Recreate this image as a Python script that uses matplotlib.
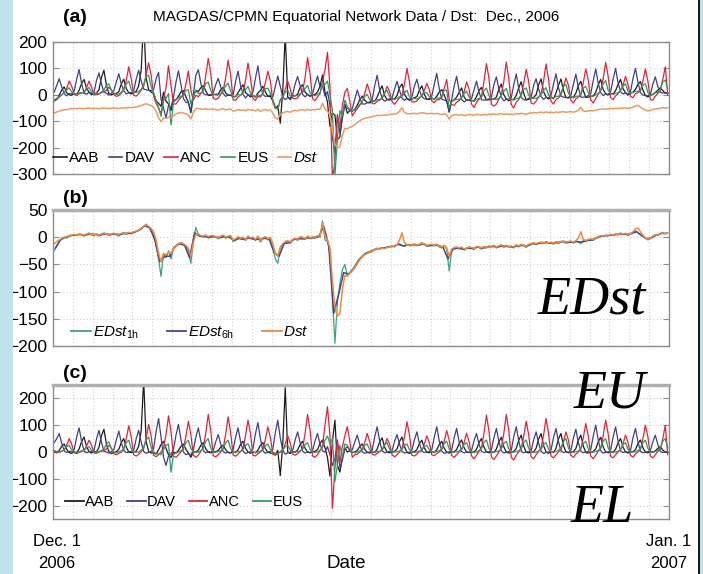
import numpy as np
import matplotlib
matplotlib.use("Agg")
import matplotlib.pyplot as plt
from matplotlib import font_manager
from matplotlib.lines import Line2D
from matplotlib.patches import Rectangle

# ---------------------------------------------------------------------------
# Data: December 2006, 3-hourly samples (8 per day, one row per day)
# EE index (H minus EDst) for the four MAGDAS equatorial stations, nT
# ---------------------------------------------------------------------------
ee_aab = [
    [2, -3, 6, 21, 30, 10, -2, -5],
    [0, -2, 11, 39, 56, 20, 2, -4],
    [3, 0, 17, 60, 85, 30, 1, -6],
    [-2, 1, 10, 35, 50, 18, 0, -3],
    [0, 3, 22, 78, 270, 40, 2, -4],
    [-3, -8, 8, 28, 40, 14, -10, -20],
    [0, -4, 6, 21, 30, 10, -3, -20],
    [2, -1, 7, 25, 35, 12, 0, -3],
    [-1, 2, 5, 18, 25, 9, -2, -4],
    [1, -2, 8, 28, 40, 14, 0, -5],
    [0, -3, 7, 25, 35, 12, -1, -4],
    [-5, -10, 6, -88, 30, 240, 0, -6],
    [2, -1, 8, 28, 40, 14, 0, -3],
    [0, 3, 9, 32, 45, 16, -20, -90],
    [40, 119, -50, -75, -20, 15, 0, 5],
    [-2, 0, 6, 21, 30, 10, -1, -4],
    [1, -2, 11, 37, 53, 18, 0, -3],
    [0, 2, 11, 39, 56, 20, -2, -5],
    [-1, 1, 9, 31, 44, 15, 0, -3],
    [2, -2, 8, 28, 40, 14, -1, -4],
    [0, 1, 9, 31, 45, 16, 0, -2],
    [-2, 0, 10, 35, 50, 18, 1, -3],
    [1, -1, 11, 38, 55, 19, 0, -4],
    [0, 2, 13, 44, 63, 22, -1, -3],
    [-1, 0, 14, 48, 69, 24, 0, -5],
    [2, -2, 14, 48, 69, 24, 1, -3],
    [0, 1, 13, 44, 63, 22, -2, -4],
    [-1, 2, 11, 38, 55, 19, 0, -3],
    [1, -1, 10, 35, 50, 18, 0, -4],
    [0, 1, 9, 31, 45, 16, -1, -3],
    [2, 0, 4, 14, 20, 7, 0, -2],
]

ee_dav = [
    [35, 50, 69, 33, 5, -2, 3, 0],
    [8, 55, 90, 40, 4, -3, 1, 2],
    [6, 48, 81, 37, 3, 0, -4, 1],
    [9, 45, 78, 35, 6, -2, 0, 3],
    [7, 50, 81, 38, 2, -5, -1, 2],
    [12, 75, 125, 55, -20, -50, -15, -8],
    [10, 62, 103, 48, 0, -10, -6, -12],
    [8, 55, 90, 42, 5, -3, 2, 0],
    [5, 38, 65, 30, 2, -4, 0, -3],
    [7, 55, 90, 40, 3, -6, -2, 1],
    [12, 68, 110, 50, 4, -5, 0, 2],
    [10, 72, 119, 52, 6, -8, -3, 0],
    [6, 45, 75, 35, 3, -4, 1, -2],
    [5, 42, 69, 30, 4, 0, 20, -10],
    [-50, -25, 45, -60, -30, 10, 20, 5],
    [8, 38, 63, 28, 0, -5, -2, 0],
    [6, 56, 94, 42, 5, -3, -1, 2],
    [4, 40, 65, 30, 2, -4, 0, -2],
    [7, 45, 75, 33, 3, -2, 1, 0],
    [9, 56, 94, 41, 4, -5, -2, 1],
    [6, 53, 88, 38, 2, -3, 0, -1],
    [5, 42, 69, 30, 3, -2, 1, 0],
    [8, 53, 88, 40, 5, -4, -1, 2],
    [7, 57, 94, 42, 3, -3, 0, 1],
    [5, 45, 75, 33, 2, -5, -2, 0],
    [8, 53, 88, 39, 4, -2, 1, -1],
    [6, 51, 85, 37, 3, -3, 0, 2],
    [9, 60, 100, 45, 5, -4, -1, 0],
    [7, 56, 94, 41, 4, -2, 1, -1],
    [6, 53, 88, 39, 3, -3, 0, 1],
    [5, 38, 63, 28, 2, -2, 1, 0],
]

ee_anc = [
    [5, -2, 0, 3, 8, 25, 50, 30],
    [-3, -6, -2, 2, 6, 22, 44, 26],
    [-4, -5, 0, 3, 4, 12, 25, 15],
    [-6, -10, -5, 0, 10, 49, 98, 55],
    [-10, -15, -8, 2, 12, 52, 103, 60],
    [-12, -18, -10, 0, 15, 65, 135, 75],
    [-15, -20, -10, 0, 14, 58, 115, 65],
    [-12, -20, -12, 3, 15, 70, 140, 80],
    [-14, -18, -10, 0, 13, 65, 131, 75],
    [-10, -16, -8, 2, 12, 60, 119, 68],
    [-12, -15, -6, 0, 10, 47, 94, 55],
    [-8, -12, -5, 0, 6, 30, 60, 35],
    [-8, -12, -6, 3, 15, 70, 140, 80],
    [-15, -20, -10, 5, 20, 100, 169, 60],
    [-210, -60, 40, -40, 20, 60, 94, 40],
    [-20, -10, -8, 0, 8, 35, 69, 40],
    [-8, -12, -5, 2, 6, 25, 50, 30],
    [-10, -18, -10, 0, 12, 57, 113, 65],
    [-12, -15, -8, 2, 6, 30, 60, 35],
    [-10, -14, -6, 0, 9, 40, 80, 45],
    [-12, -20, -10, 0, 8, 35, 70, 40],
    [-15, -25, -12, 2, 14, 69, 138, 80],
    [-18, -28, -15, 0, 15, 70, 140, 80],
    [-20, -30, -12, 0, 12, 58, 115, 65],
    [-18, -25, -10, 2, 13, 63, 125, 70],
    [-15, -22, -10, 0, 8, 38, 75, 45],
    [-12, -20, -8, 0, 11, 53, 106, 60],
    [-15, -25, -12, 2, 12, 60, 119, 68],
    [-16, -22, -10, 0, 7, 32, 63, 36],
    [-12, -20, -8, 0, 10, 50, 100, 57],
    [-15, -22, -10, 2, 10, 50, 100, -10],
]

ee_eus = [
    [5, 2, 0, 3, 8, 20, 25, 8],
    [0, -2, 1, 4, 6, 16, 20, 6],
    [-1, 0, 2, 5, 11, 30, 38, 12],
    [0, -3, 1, 4, 13, 35, 44, 13],
    [2, -1, 0, 6, 17, 45, 56, 17],
    [0, -5, -8, -10, 9, 24, 30, -75],
    [-10, -3, 0, 4, 13, 35, 44, 13],
    [1, -2, 0, 5, 15, 40, 50, 15],
    [0, -1, 2, 4, 13, 35, 44, 13],
    [-2, 0, 1, 3, 9, 25, 31, 9],
    [1, -2, 0, 4, 9, 24, 30, 9],
    [0, -6, -8, 2, 8, 20, 25, 8],
    [-1, 0, 2, 4, 10, 28, 35, 10],
    [0, -2, 1, 6, 17, 44, 60, 30],
    [50, -110, -50, 25, -20, 30, 25, 10],
    [0, -3, 0, 4, 9, 24, 30, 9],
    [1, -1, 2, 3, 10, 28, 35, 10],
    [-1, 0, 1, 4, 9, 24, 30, 9],
    [0, -2, 0, 3, 8, 20, 25, 8],
    [1, -1, 2, 5, 12, 32, 40, 12],
    [-1, 0, 1, 4, 10, 28, 35, 10],
    [0, -2, 0, 5, 13, 36, 45, 13],
    [1, -1, 2, 4, 12, 32, 40, 12],
    [0, 0, 1, 5, 13, 36, 45, 13],
    [-1, -2, 0, 3, 10, 28, 35, 10],
    [1, 0, 2, 6, 15, 40, 50, 15],
    [0, -1, 1, 4, 12, 32, 40, 12],
    [-1, 0, 2, 5, 15, 40, 50, 15],
    [0, -2, 0, 3, 10, 28, 35, 10],
    [1, 0, 1, 5, 13, 35, 44, 13],
    [0, -1, 2, 6, 15, 40, 50, 15],
]

# EDst from 1-hour data (3-hourly samples), nT
edst_1h = [
    [-25, -15, -8, -3, 0, -2, 2, 3],
    [5, 3, 6, 4, 2, 5, 8, 4],
    [3, 6, 2, 5, 8, 6, 3, 5],
    [7, 4, 2, 6, 9, 5, 8, 6],
    [8, 10, 12, 15, 20, 24, 18, 14],
    [8, -15, -40, -72, -30, -38, -25, -40],
    [-20, -15, -12, -10, -14, -18, -25, -48],
    [-8, 18, 5, 2, 0, 3, -2, 1],
    [2, 0, -3, 1, 3, -2, 0, 2],
    [-8, -5, 0, -4, -2, -6, 1, -3],
    [-2, -6, 0, -9, -3, -1, -5, -2],
    [-18, -40, -48, -20, -15, -10, -8, -12],
    [-5, -3, -6, 0, -2, -4, 1, -3],
    [0, -2, 2, 0, 30, -5, -8, -30],
    [-110, -195, -120, -85, -60, -50, -70, -65],
    [-60, -55, -45, -40, -35, -30, -28, -27],
    [-25, -22, -20, -22, -19, -21, -18, -17],
    [-16, -18, -14, -12, -15, -17, -13, -16],
    [-15, -12, -16, -14, -10, -13, -17, -15],
    [-14, -16, -13, -18, -20, -15, -22, -62],
    [-25, -20, -18, -22, -19, -24, -21, -18],
    [-20, -23, -17, -19, -22, -18, -20, -16],
    [-18, -15, -20, -17, -14, -19, -16, -18],
    [-17, -20, -15, -18, -13, -16, -19, -14],
    [-13, -10, -14, -11, -9, -12, -8, -11],
    [-10, -13, -8, -12, -9, -7, -11, -9],
    [-8, -11, -7, -9, -12, -6, -8, -5],
    [-4, -6, -2, 0, 3, 1, 4, 2],
    [5, 3, 6, 4, 8, 5, 7, 3],
    [6, 9, 12, 8, 5, 2, -2, -5],
    [-3, 2, 5, 3, 7, 9, 6, 8],
]

# EDst from 6-hour running data (6-hourly samples), nT
edst_6h = [
    [-20, -5, 0, 3], [4, 5, 4, 6], [5, 4, 6, 5], [6, 5, 7, 7],
    [10, 14, 21, 17], [-5, -45, -35, -35], [-18, -12, -15, -38],
    [8, 2, 1, 0], [1, -1, 1, 0], [-6, -2, -4, -1], [-4, -4, -2, -3],
    [-28, -35, -12, -10], [-4, -3, -3, -1], [-1, 1, 20, -15],
    [-140, -105, -65, -68], [-58, -43, -33, -28], [-24, -21, -20, -18],
    [-17, -13, -16, -14], [-14, -15, -12, -16], [-15, -15, -18, -40],
    [-22, -20, -22, -20], [-21, -18, -20, -18], [-17, -18, -16, -17],
    [-18, -16, -15, -16], [-12, -12, -10, -10], [-11, -10, -8, -10],
    [-9, -8, -9, -6], [-5, -1, 2, 3], [4, 5, 6, 5], [7, 10, 3, -3],
    [-1, 4, 7, 7],
]

# Kyoto Dst (3-hourly samples), nT
dst = [
    [-12, -8, -5, -2, 0, 1, 3, 4],
    [5, 4, 6, 5, 4, 6, 7, 5],
    [5, 6, 4, 6, 7, 6, 5, 6],
    [7, 6, 5, 7, 8, 7, 9, 8],
    [10, 11, 13, 16, 20, 23, 20, 16],
    [10, -5, -30, -45, -30, -32, -28, -30],
    [-22, -16, -12, -10, -12, -15, -20, -35],
    [-10, 5, 6, 3, 2, 4, 1, 3],
    [3, 1, -1, 2, 4, 0, 2, 3],
    [-5, -3, 1, -2, 0, -4, 2, -1],
    [0, -4, 2, -6, -1, 1, -3, 0],
    [-12, -30, -35, -18, -12, -8, -6, -9],
    [-4, -2, -4, 1, 0, -3, 2, -1],
    [1, 0, 3, 2, 25, 2, -5, -20],
    [-80, -130, -145, -140, -95, -70, -72, -66],
    [-62, -56, -48, -42, -36, -32, -30, -28],
    [-26, -23, -21, -22, -20, -21, -19, -18],
    [-17, -16, -14, -5, 8, -10, -14, -15],
    [-14, -13, -15, -13, -11, -12, -15, -14],
    [-13, -15, -13, -16, -18, -15, -19, -35],
    [-22, -19, -18, -20, -18, -22, -20, -18],
    [-19, -21, -17, -18, -20, -17, -19, -16],
    [-17, -15, -18, -16, -14, -17, -15, -17],
    [-16, -18, -14, -16, -13, -15, -17, -13],
    [-12, -10, -12, -10, -9, -11, -8, -10],
    [-9, -11, -8, -10, -8, -7, -9, -8],
    [-7, -9, -6, -2, 10, -4, -6, -4],
    [-3, -4, -1, 1, 3, 2, 4, 3],
    [5, 4, 6, 5, 7, 6, 7, 5],
    [7, 10, 15, 17, 10, 4, -1, -4],
    [-2, 2, 4, 4, 6, 8, 7, 8],
]

stations = ["AAB", "DAV", "ANC", "EUS"]
station_colors = ["#1e1e1e", "#3f3f8f", "#e5223c", "#2f9a5c"]
dst_color = "#ec9a62"
edst_colors = ["#3aa673", "#45458f", "#f08a3c"]
date_left = ["Dec. 1", "2006"]
date_right = ["Jan. 1", "2007"]
title = "MAGDAS/CPMN Equatorial Network Data / Dst:  Dec., 2006"
DST_SHIFT_A = -57  # Dst is drawn lowered in panel (a) to keep it below the station traces

# ---------------------------------------------------------------------------
installed = {f.name for f in font_manager.fontManager.ttflist}
SANS = "Liberation Sans"
NARROW = "Liberation Sans Narrow" if "Liberation Sans Narrow" in installed else SANS
SERIF = "Liberation Serif"

plt.rcParams["font.family"] = [SANS, "DejaVu Sans"]
plt.rcParams["mathtext.fontset"] = "custom"
plt.rcParams["mathtext.it"] = SANS + ":italic"
plt.rcParams["mathtext.rm"] = SANS

ee = [np.ravel(np.array(s, dtype=float)) for s in (ee_aab, ee_dav, ee_anc, ee_eus)]
e1 = np.ravel(np.array(edst_1h, dtype=float))
e6 = np.ravel(np.array(edst_6h, dtype=float))
ds = np.ravel(np.array(dst, dtype=float))

t3 = (np.arange(e1.size) + 0.5) * 3 / 24.0   # days since Dec 1, 00 UT
t6 = (np.arange(e6.size) + 0.5) * 6 / 24.0

# H deviation at each station = EE + EDst
h = [x + e1 for x in ee]

W, H = 703, 574
fig = plt.figure(figsize=(W / 100, H / 100), dpi=100)

# side strips of the page
fig.patches.append(Rectangle((0, 0), 13 / W, 1, transform=fig.transFigure,
                             facecolor="#c3e3ea", edgecolor="none", zorder=0))
fig.patches.append(Rectangle((700 / W, 0), 3 / W, 1, transform=fig.transFigure,
                             facecolor="#c3e3ea", edgecolor="none", zorder=0))
fig.add_artist(Line2D([699 / W, 699 / W], [0, 1], transform=fig.transFigure,
                      color="black", lw=1.3))

L, R = 53, 669


def add_panel(top, bottom):
    return fig.add_axes([L / W, 1 - bottom / H, (R - L) / W, (bottom - top) / H])


def style(ax, ylim, yticks, thick_top=False):
    ax.set_xlim(0, 31)
    ax.set_ylim(*ylim)
    ax.set_yticks(yticks)
    ax.set_xticks(np.arange(1, 31))
    ax.tick_params(axis="x", length=0, labelbottom=False)
    ax.tick_params(axis="y", direction="in", length=4, width=0.8, color="#8c8c8c",
                   left=True, right=True, labelsize=12.5, pad=4)
    ax.grid(True, color="#cfcfcf", ls=(0, (1, 2)), lw=0.8)
    ax.set_axisbelow(True)
    for s in ax.spines.values():
        s.set_color("#8c8c8c")
        s.set_linewidth(1.0)
    if thick_top:
        ax.spines["top"].set_color("#b0b0b0")
        ax.spines["top"].set_linewidth(2.5)


# (a) station H and Dst
ax_a = add_panel(42, 174)
for y, c in zip(h, station_colors):
    ax_a.plot(t3, y, color=c, lw=0.9)
ax_a.plot(t3, ds + DST_SHIFT_A, color=dst_color, lw=1.1)
style(ax_a, (-300, 200), np.arange(-300, 201, 100))
hand_a = [Line2D([], [], color=c, lw=1.2) for c in station_colors + [dst_color]]
leg_a = ax_a.legend(hand_a, stations + ["Dst"], loc="center left", bbox_to_anchor=(0.0, 0.12),
                    ncol=5, frameon=False, handlelength=0.9, handletextpad=0.15,
                    columnspacing=0.6, fontsize=11, borderaxespad=0, borderpad=0)
leg_a.get_texts()[-1].set_fontstyle("italic")

# (b) EDst and Dst
ax_b = add_panel(210, 346)
ax_b.plot(t3, e1, color=edst_colors[0], lw=0.9)
ax_b.plot(t6, e6, color=edst_colors[1], lw=1.1)
ax_b.plot(t3, ds, color=edst_colors[2], lw=1.1)
style(ax_b, (-200, 50), np.arange(-200, 51, 50), thick_top=True)
hand_b = [Line2D([], [], color=c, lw=1.3) for c in edst_colors]
ax_b.legend(hand_b, [r"$\mathit{EDst}_{\mathrm{1h}}$", r"$\mathit{EDst}_{\mathrm{6h}}$", r"$\mathit{Dst}$"],
            loc="center left", bbox_to_anchor=(0.03, 0.1), ncol=3, frameon=False,
            handlelength=1.3, handletextpad=0.1, columnspacing=1.8, fontsize=11,
            borderaxespad=0, borderpad=0)

# (c) EE index
ax_c = add_panel(385, 519)
for y, c in zip(ee, station_colors):
    ax_c.plot(t3, y, color=c, lw=0.9)
style(ax_c, (-250, 250), np.arange(-200, 201, 100), thick_top=True)
hand_c = [Line2D([], [], color=c, lw=1.3) for c in station_colors]
ax_c.legend(hand_c, stations, loc="center left", bbox_to_anchor=(0.02, 0.125), ncol=4,
            frameon=False, handlelength=1.25, handletextpad=0.1, columnspacing=0.9,
            fontsize=10.5, borderaxespad=0, borderpad=0)

for ax in (ax_a, ax_b, ax_c):
    for lab in ax.get_yticklabels():
        lab.set_fontfamily(SANS)

# texts
fig.text(356 / W, 1 - 17 / H, title, ha="center", va="center",
         fontsize=12 if NARROW != SANS else 11, family=NARROW)
for lab, y in (("(a)", 18), ("(b)", 199), ("(c)", 373)):
    fig.text(75 / W, 1 - y / H, lab, ha="center", va="center", fontsize=14, fontweight="bold")

for txt, x, yb in (("EDst", 592, 313), ("EU", 610, 407), ("EL", 602, 522)):
    fig.text(x / W, 1 - yb / H, txt, ha="center", va="baseline", fontsize=39,
             family=SERIF, style="italic")

fig.text(57 / W, 1 - 541 / H, date_left[0], ha="center", va="center", fontsize=12)
fig.text(57 / W, 1 - 563 / H, date_left[1], ha="center", va="center", fontsize=12)
fig.text(669 / W, 1 - 541 / H, date_right[0], ha="center", va="center", fontsize=12)
fig.text(669 / W, 1 - 563 / H, date_right[1], ha="center", va="center", fontsize=12)
fig.text(346 / W, 1 - 563 / H, "Date", ha="center", va="center", fontsize=13.5)

fig.savefig("out.png", dpi=100)
